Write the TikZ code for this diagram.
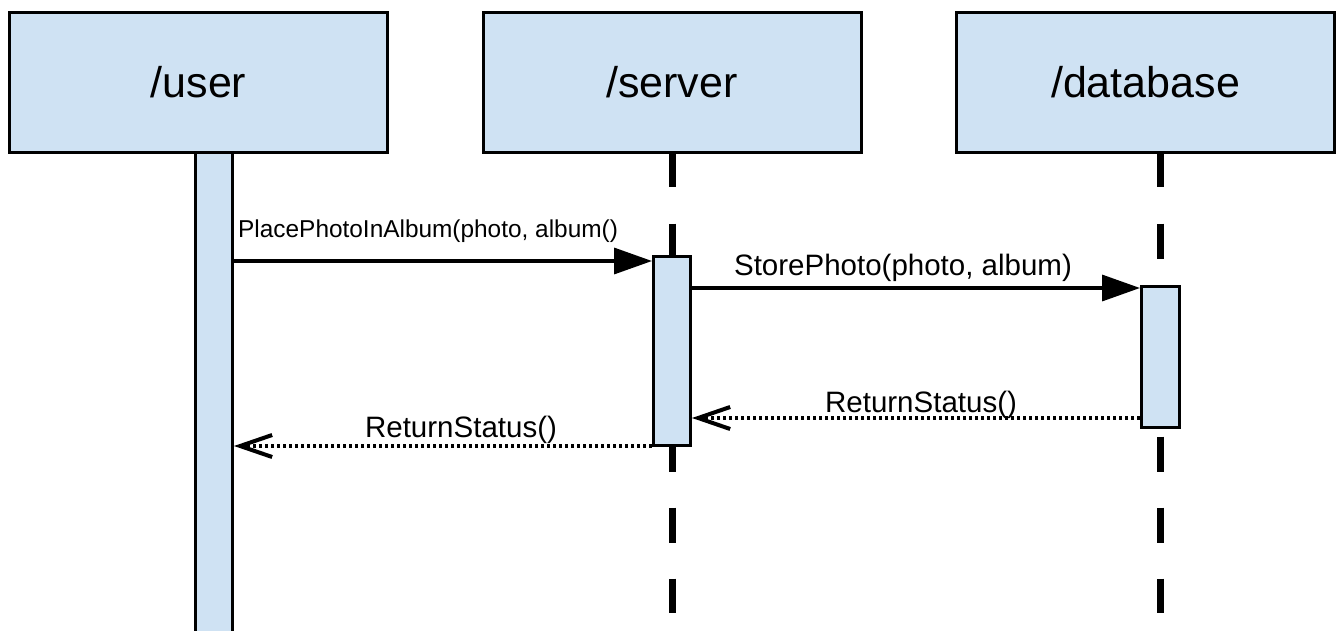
\documentclass[tikz,border=0pt]{standalone}
\usepackage{fontspec}
\setmainfont{Liberation Sans}
\usetikzlibrary{arrows.meta}
\definecolor{boxblue}{HTML}{CFE2F3}

\begin{document}
\begin{tikzpicture}[x=1pt, y=-1pt,
            head node/.style={draw, line width=3pt, fill=boxblue, minimum width=378pt, minimum height=140pt, inner sep=0pt, font=\fontsize{43}{50}\selectfont},
            act node/.style={draw, line width=3pt, fill=boxblue, minimum width=37pt, inner sep=0pt},
            lifeline/.style={line width=7pt, dash pattern=on 35pt off 36pt},
            call/.style={line width=3.5pt, -{Triangle[length=38pt,width=26pt]}},
            reply/.style={line width=3.5pt, dash pattern=on 3.5pt off 2.5pt, -{Straight Barb[length=32pt,width=22pt,line width=4pt]}},
            msg/.style={anchor=base, inner sep=0pt, font=\fontsize{29.5}{34}\selectfont},
            ]
            \useasboundingbox (0,0) rectangle (1340,631);
            \coordinate (lifeend) at (0,613);
            \coordinate (dbline) at (1160.5,152.5);

            \node[act node, minimum height=500pt] (userlife) at (214,400) {};
            \draw[lifeline] (672,152.5) -- (672,0 |- lifeend);
            \draw[lifeline] (dbline) -- (dbline |- lifeend);

            \node[head node] (user) at (198.5,82.5) {/user};
            \node[head node] (server) at (672,82.5) {/server};
            \node[head node] (database) at (1145.5,82.5) {/database};

            \node[act node, minimum height=189pt] (serveract) at (672,351) {};
            \node[act node, minimum width=38pt, minimum height=141pt] (dbact) at (1160.5,357) {};

            \draw[call] (userlife.east |- 0,261) -- (serveract.west |- 0,261);
            \draw[call] (serveract.east |- 0,288) -- (dbact.west |- 0,288);
            \draw[reply] (dbact.west |- 0,418) -- (serveract.east |- 0,418);
            \draw[reply] (serveract.west |- 0,446) -- (userlife.east |- 0,446);

            \node[anchor=base west, inner sep=0pt, font=\fontsize{24.4}{28}\selectfont] (placelbl) at (238,237) {PlacePhotoInAlbum(photo, album()};
            \node[msg] (storelbl) at (903,275) {StorePhoto(photo, album)};
            \node[msg] (dbretlbl) at (921,412) {ReturnStatus()};
            \node[msg] (userretlbl) at (461,437) {ReturnStatus()};
        \end{tikzpicture}
\end{document}
